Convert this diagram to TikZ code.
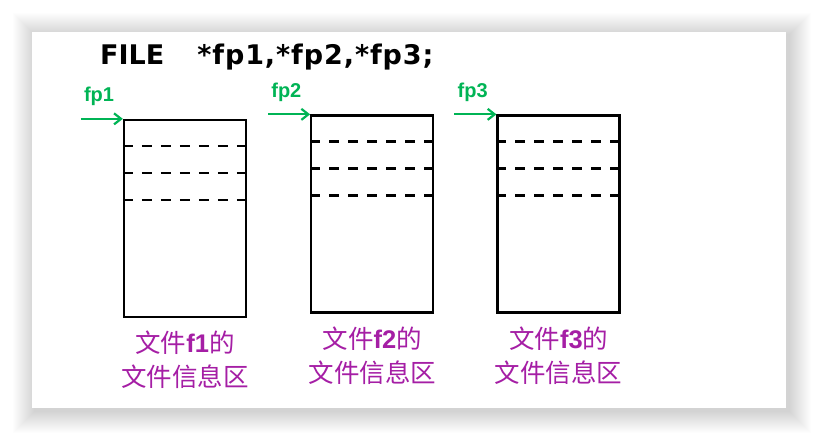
\documentclass[tikz,border=0pt]{standalone}
\usepackage{fontspec}
\setmainfont{Liberation Sans}
\newfontfamily\cjk{Noto Sans CJK SC}
\newfontfamily\codefont{DejaVu Sans}
\usetikzlibrary{arrows.meta,positioning}
\definecolor{ptrgreen}{RGB}{0,180,85}
\definecolor{infopurple}{RGB}{165,30,165}

\begin{document}
\begin{tikzpicture}[
  x=1pt,y=-1pt,
  filebox/.style={draw,line width=2.3pt,minimum width=122pt,minimum height=197pt,inner sep=0pt},
  rec/.style={line width=2.3pt,dash pattern=on 10pt off 9pt},
  ptr/.style={ptrgreen,line width=2.2pt,-{Straight Barb[length=7pt,width=11pt]}},
  ptrname/.style={ptrgreen,font=\bfseries\fontsize{20}{22}\selectfont,inner sep=0pt,anchor=base west},
  info/.style={infopurple,font=\cjk\fontsize{25.5}{34}\selectfont,align=center,inner sep=0pt}
]
\useasboundingbox (0,0) rectangle (818,440);
\fill[white] (0,0) rectangle (818,440);
\foreach \i in {1,...,22}
  \fill[black,opacity=0.0065] (35-\i,35-\i) rectangle (789+\i,411+\i);
\fill[white] (32,32) rectangle (786,408);

\node[font=\codefont\bfseries\fontsize{27}{30}\selectfont,anchor=base west,inner sep=0pt] (decl)
  at (100,64) {FILE\hspace{33pt}{\addfontfeature{LetterSpace=3.4}*fp1,*fp2,*fp3;}};

\node[filebox] (f1) at (185,218.5) {};
\node[filebox,right=63pt of f1,yshift=4.5pt] (f2) {};
\node[filebox,right=62pt of f2] (f3) {};

\foreach \b in {f1,f2,f3}
  \foreach \d in {27,54,81}
    \draw[rec] ([yshift=-\d pt]\b.north west) -- ([yshift=-\d pt]\b.north east);

\foreach \b/\n in {f1/1,f2/2,f3/3}{
  \coordinate[left=42pt of \b.north west] (s\n);
  \draw[ptr] (s\n) -- (\b.north west);
  \node[ptrname] (p\n) at ([xshift=3pt,yshift=17pt]s\n) {fp\n};
  \node[info,below=13pt of \b] (i\n) {文件{\rmfamily\bfseries f\n}的\\文件信息区};
}
\end{tikzpicture}
\end{document}
